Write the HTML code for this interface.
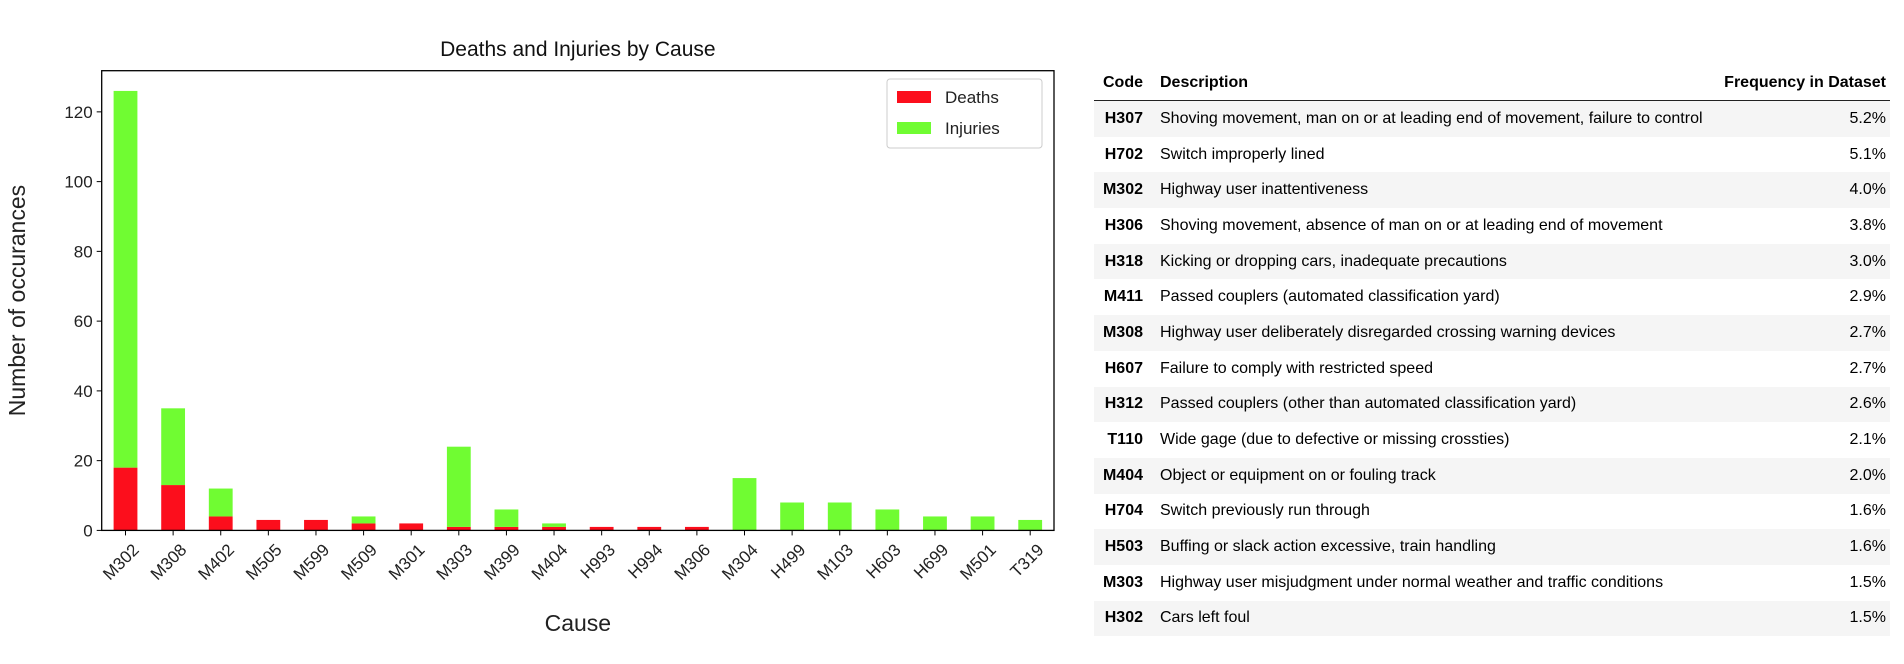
<!DOCTYPE html>
<html><head><meta charset="utf-8"><style>
body{margin:0;width:1904px;height:664px;background:#fff;overflow:hidden;font-family:"Liberation Sans",sans-serif;}
svg{position:absolute;left:0;top:0}
#tbl{position:absolute;left:1094px;top:66px;width:796px;border-collapse:collapse;font-size:16px;color:#000}
#tbl th{font-weight:bold;height:34px;padding:0;text-align:left;border-bottom:1.5px solid #222}
#tbl td{height:35.7px;padding:0}
#tbl tr.s td{background:#f5f5f5}
.c{width:49px;text-align:right;font-weight:bold;padding-right:17px!important}
.f{text-align:right;padding-right:4px!important}
</style></head><body>
<svg width="1080" height="664" id="chart"></svg>
<table id="tbl">
<thead><tr><th class="c" style="text-align:right">Code</th><th>Description</th><th class="f" style="text-align:right">Frequency in Dataset</th></tr></thead>
<tbody id="tb"></tbody></table>
<script>
const categories=["M302","M308","M402","M505","M599","M509","M301","M303","M399","M404","H993","H994","M306","M304","H499","M103","H603","H699","M501","T319"];
const deaths=[18,13,4,3,3,2,2,1,1,1,1,1,1,0,0,0,0,0,0,0];
const injuries=[108,22,8,0,0,2,0,23,5,1,0,0,0,15,8,8,6,4,4,3];
const yTicks=[0,20,40,60,80,100,120];
const codes=["H307","H702","M302","H306","H318","M411","M308","H607","H312","T110","M404","H704","H503","M303","H302"];
const descs=["Shoving movement, man on or at leading end of movement, failure to control","Switch improperly lined","Highway user inattentiveness","Shoving movement, absence of man on or at leading end of movement","Kicking or dropping cars, inadequate precautions","Passed couplers (automated classification yard)","Highway user deliberately disregarded crossing warning devices","Failure to comply with restricted speed","Passed couplers (other than automated classification yard)","Wide gage (due to defective or missing crossties)","Object or equipment on or fouling track","Switch previously run through","Buffing or slack action excessive, train handling","Highway user misjudgment under normal weather and traffic conditions","Cars left foul"];
const freqs=["5.2%","5.1%","4.0%","3.8%","3.0%","2.9%","2.7%","2.7%","2.6%","2.1%","2.0%","1.6%","1.6%","1.5%","1.5%"];

const NS="http://www.w3.org/2000/svg";
const svg=document.getElementById('chart');
const L=101.7,R=1054,T=70.7,B=530.4,YMAX=131.8;
const step=(R-L)/categories.length;
const x=i=>L+step*(i+0.5);
const y=v=>B-(B-T)*v/YMAX;
function mk(t,a,txt){const e=document.createElementNS(NS,t);for(const k in a)e.setAttribute(k,a[k]);if(txt!==undefined)e.textContent=txt;svg.appendChild(e);return e;}
const bw=step*0.5;
categories.forEach((c,i)=>{
  let r=mk('rect',{x:x(i)-bw/2,y:y(deaths[i]),width:bw,height:y(0)-y(deaths[i]),fill:'#fc0e1c'});
  
  
  let g=mk('rect',{x:x(i)-bw/2,y:y(deaths[i]+injuries[i]),width:bw,height:y(deaths[i])-y(deaths[i]+injuries[i]),fill:'#70fc32'});
  
  
  mk('line',{x1:x(i),x2:x(i),y1:B,y2:B+5,stroke:'#000','stroke-width':1});
  const tx=x(i)+6,ty=B+12;
  let t=mk('text',{x:tx,y:ty,'font-size':17,'text-anchor':'end','dominant-baseline':'hanging',fill:'#222',transform:`rotate(-45 ${tx} ${ty})`},c);
  
  
});
yTicks.forEach(v=>{
  mk('line',{x1:L-5,x2:L,y1:y(v),y2:y(v),stroke:'#000','stroke-width':1});
  let t=mk('text',{x:L-9,y:y(v)+6,'font-size':17,'text-anchor':'end',fill:'#222'},v);
  
  
});
let ax=mk('rect',{x:L,y:T,width:R-L,height:B-T,fill:'none',stroke:'#000','stroke-width':1.3});


let ti=mk('text',{x:(L+R)/2,y:56,'font-size':21,'text-anchor':'middle',fill:'#111'},'Deaths and Injuries by Cause');


let xl=mk('text',{x:(L+R)/2,y:631,'font-size':23,'text-anchor':'middle',fill:'#222'},'Cause');


let yl=mk('text',{x:0,y:0,'font-size':23,'text-anchor':'middle',fill:'#222',transform:`translate(25 ${(T+B)/2}) rotate(-90)`},'Number of occurances');


let lg=mk('rect',{x:887,y:79,width:155,height:69,rx:3,fill:'#fff',stroke:'#ccc','stroke-width':1});


[['Deaths','#fc0e1c',97],['Injuries','#70fc32',128]].forEach(([n,col,yy])=>{
  let s=mk('rect',{x:897,y:yy-6,width:34,height:12,fill:col});
  
  
  let t=mk('text',{x:945,y:yy+6,'font-size':17,fill:'#222'},n);
  
  
});
const tb=document.getElementById('tb');
codes.forEach((c,i)=>{
  const tr=document.createElement('tr');
  if(i%2===0)tr.className='s';
  
  
  tr.innerHTML=`<td class="c">${c}</td><td>${descs[i]}</td><td class="f">${freqs[i]}</td>`;
  tb.appendChild(tr);
});
</script>
</body></html>
